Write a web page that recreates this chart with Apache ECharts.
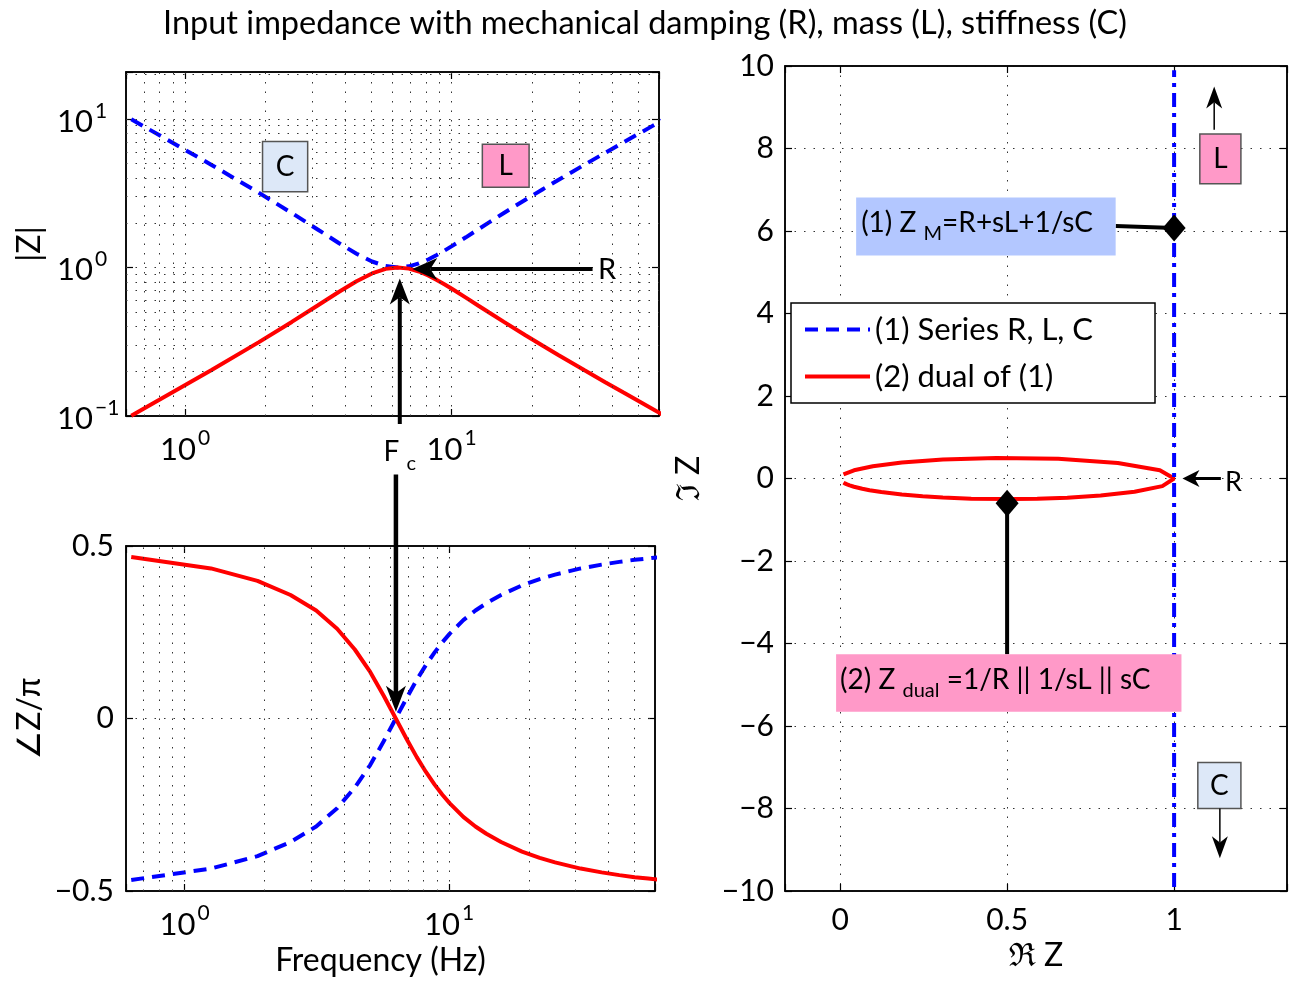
<!DOCTYPE html>
<html>
<head>
<meta charset="utf-8">
<title>Input impedance</title>
<script src="https://cdn.jsdelivr.net/npm/echarts@6.0.0/dist/echarts.min.js"></script>
<style>
html,body{margin:0;padding:0;background:#fff;}
#chart{width:1290px;height:984px;}
</style>
</head>
<body>
<div id="chart"></div>
<script>
// ---------------- data ----------------
const freq = [0.628, 1.257, 1.885, 2.513, 3.142, 3.770, 4.398, 5.027, 5.655, 6.283, 6.912, 7.540, 8.168, 8.796, 9.425, 10.053, 11.310, 12.566, 13.823, 15.708, 18.850, 21.991, 25.133, 31.416, 37.699, 43.982, 50.265, 56.549, 62.832];
const magSeries = [9.950, 4.903, 3.194, 2.326, 1.803, 1.462, 1.237, 1.097, 1.022, 1.000, 1.018, 1.065, 1.132, 1.213, 1.302, 1.397, 1.596, 1.803, 2.012, 2.326, 2.848, 3.366, 3.881, 4.903, 5.918, 6.930, 7.938, 8.945, 9.950];
const magDual = [0.1005, 0.2040, 0.3131, 0.4299, 0.5547, 0.6839, 0.8082, 0.9119, 0.9784, 1.0000, 0.9823, 0.9389, 0.8833, 0.8247, 0.7682, 0.7160, 0.6264, 0.5547, 0.4971, 0.4299, 0.3511, 0.2971, 0.2577, 0.2040, 0.1690, 0.1443, 0.1260, 0.1118, 0.1005];
const phaseSeries = [-0.468, -0.435, -0.399, -0.358, -0.313, -0.260, -0.200, -0.135, -0.066, 0.000, 0.060, 0.112, 0.155, 0.191, 0.221, 0.246, 0.285, 0.313, 0.334, 0.358, 0.386, 0.404, 0.417, 0.435, 0.446, 0.454, 0.460, 0.464, 0.468];
const phaseDual = [0.468, 0.435, 0.399, 0.358, 0.313, 0.260, 0.200, 0.135, 0.066, 0.000, -0.060, -0.112, -0.155, -0.191, -0.221, -0.246, -0.285, -0.313, -0.334, -0.358, -0.386, -0.404, -0.417, -0.435, -0.446, -0.454, -0.460, -0.464, -0.468];
const reSeries = [1, 1, 1, 1, 1, 1, 1, 1, 1, 1, 1, 1, 1, 1, 1, 1, 1, 1, 1, 1, 1, 1, 1, 1, 1, 1, 1, 1, 1];
const imSeries = [-9.900, -4.800, -3.033, -2.100, -1.500, -1.067, -0.729, -0.450, -0.211, 0.000, 0.191, 0.367, 0.531, 0.686, 0.833, 0.975, 1.244, 1.500, 1.745, 2.100, 2.667, 3.214, 3.750, 4.800, 5.833, 6.857, 7.875, 8.889, 9.900];
const reDual = [0.0101, 0.0416, 0.0980, 0.1848, 0.3077, 0.4678, 0.6532, 0.8316, 0.9573, 1.0000, 0.9648, 0.8815, 0.7802, 0.6802, 0.5902, 0.5127, 0.3924, 0.3077, 0.2471, 0.1848, 0.1233, 0.0882, 0.0664, 0.0416, 0.0285, 0.0208, 0.0159, 0.0125, 0.0101];
const imDual = [0.1000, 0.1997, 0.2974, 0.3882, 0.4615, 0.4990, 0.4759, 0.3742, 0.2021, 0.0000, -0.1842, -0.3232, -0.4141, -0.4664, -0.4918, -0.4998, -0.4883, -0.4615, -0.4313, -0.3882, -0.3288, -0.2837, -0.2490, -0.1997, -0.1665, -0.1428, -0.1250, -0.1111, -0.1000];

// grid (tick) positions
const gridFreq = [0.7, 0.8, 0.9, 1, 2, 3, 4, 5, 6, 7, 8, 9, 10, 20, 30, 40, 50];
const gridMag = [0.2, 0.3, 0.4, 0.5, 0.6, 0.7, 0.8, 0.9, 1, 2, 3, 4, 5, 6, 7, 8, 9, 10, 20];
const gridPhase = [0];
const reTicks = [0, 0.5, 1];

// names / texts
const titleText = 'Input impedance with mechanical damping (R), mass (L), stiffness (C)';
const nameSeries = '(1) Series R, L, C';
const nameDual = '(2) dual of (1)';

// annotation anchors (data coordinates of each panel)
const magBoxC = [[1.952, 7.04], [2.883, 3.237]];
const magBoxL = [[13.04, 6.76], [19.53, 3.466]];
const magArrowR = [[33.8, 0.975], [7.12, 0.975]];
const magLabelR = [38.3, 0.96];
const magArrowFc = [[6.39, 0.0883], [6.39, 0.843]];
const magLabelFc = [6.39, 0.054];
const phaseArrowFc = [[6.29, 0.707], [6.29, 0.0194]];
const nyqBoxZM = [[0.048, 6.812], [0.825, 5.405]];
const nyqLinkZM = [[0.825, 6.12], [1, 6.07]];
const nyqBoxDual = [[-0.012, -4.258], [1.022, -5.657]];
const nyqLinkDual = [[0.5, -4.258], [0.5, -0.6]];
const nyqMarkers = [[1, 6.07], [0.5, -0.6]];
const nyqBoxL = [[1.077, 8.35], [1.2, 7.144]];
const nyqArrowL = [[1.12, 8.455], [1.12, 9.505]];
const nyqBoxC = [[1.071, -6.885], [1.2, -8.0]];
const nyqArrowC = [[1.137, -8.0], [1.137, -9.207]];
const nyqArrowR = [[1.14, 0], [1.025, 0]];
const nyqLabelR = [1.178, -0.1];

// ---------------- styling ----------------
const FONT = 'Lato, "Noto Sans", "DejaVu Sans", sans-serif';
const BLUE = '#0000ff', RED = '#ff0000';
const DOT = {color: '#333', width: 1, type: [1.5, 8]};
const PINK = '#ff99c8', LBLUE = '#b3c7ff', PALEBLUE = '#dde8f8';

function merge(a, b) {
  const o = Object.assign({}, a);
  for (const k in b) {
    if (b[k] && typeof b[k] === 'object' && !Array.isArray(b[k]) && a[k] && typeof a[k] === 'object') o[k] = merge(a[k], b[k]);
    else o[k] = b[k];
  }
  return o;
}
const baseAxis = {
  axisLine: {show: true, onZero: false, lineStyle: {color: '#000', width: 1.5}},
  axisTick: {show: true, inside: true, length: 7, lineStyle: {color: '#000', width: 1.2}},
  splitLine: {show: false},
  axisLabel: {show: true, color: '#000', fontFamily: FONT, fontSize: 30},
  nameTextStyle: {color: '#000', fontFamily: FONT, fontSize: 32}
};
function ax(extra) { return merge(baseAxis, extra); }
const hidden = {axisLabel: {show: false}};

function isPow10(v) { const l = Math.log10(v); return Math.abs(l - Math.round(l)) < 1e-6; }
function logLabel(v) {
  if (!isPow10(v)) return '';
  const e = Math.round(Math.log10(v));
  return '{n|10}{s|' + (e < 0 ? '\u2212' + (-e) : e) + '}';
}
const logRich = {
  n: {fontSize: 31, fontFamily: FONT, color: '#000', verticalAlign: 'bottom'},
  s: {fontSize: 21, fontFamily: FONT, color: '#000', verticalAlign: 'bottom', padding: [0, 0, 16, 2]}
};
function minusLabel(v) { return v < 0 ? '\u2212' + (-v) : String(v); }

const logX = {type: 'log', logBase: 10, min: 0.6, max: 60};
const logY = {type: 'log', logBase: 10, min: 0.1, max: 20.7};

const pairs = (xs, ys) => xs.map((x, i) => [x, ys[i]]);
const gridMarks = (xs, ys) => ({
  silent: true, symbol: 'none', animation: false,
  label: {show: false}, emphasis: {disabled: true},
  lineStyle: DOT,
  data: xs.map(v => ({xAxis: v})).concat(ys.map(v => ({yAxis: v})))
});

const option = {
  animation: false,
  backgroundColor: '#fff',
  textStyle: {fontFamily: FONT},
  title: {text: titleText, left: 'center', top: 2,
    textStyle: {fontSize: 32.5, fontWeight: 'normal', fontFamily: FONT, color: '#000'}},
  legend: {
    data: [nameSeries, nameDual], orient: 'vertical', left: 791, top: 303,
    padding: [11, 62, 11, 12], itemGap: 16, itemWidth: 65, itemHeight: 14,
    borderColor: '#000', borderWidth: 1.5, backgroundColor: '#fff', selectedMode: false,
    lineStyle: {width: 4}, itemStyle: {opacity: 0},
    textStyle: {fontSize: 31, fontFamily: FONT, color: '#000'}
  },
  grid: [
    {left: 126, top: 72, width: 533, height: 344, show: true, borderColor: '#000', borderWidth: 1.5},
    {left: 126, top: 546, width: 529, height: 345, show: true, borderColor: '#000', borderWidth: 1.5},
    {left: 785, top: 66, width: 502, height: 825, show: true, borderColor: '#000', borderWidth: 1.5}
  ],
  xAxis: [
    ax(Object.assign({gridIndex: 0}, logX, {axisLabel: {formatter: logLabel, rich: logRich, margin: 12}})),
    ax(Object.assign({gridIndex: 0, position: 'top'}, logX, hidden)),
    ax(Object.assign({gridIndex: 1}, logX, {axisLabel: {formatter: logLabel, rich: logRich, margin: 12},
      name: 'Frequency (Hz)', nameLocation: 'middle', nameGap: 54, nameTextStyle: {padding: [0, 20, 0, 0]}})),
    ax(Object.assign({gridIndex: 1, position: 'top'}, logX, hidden)),
    ax({gridIndex: 2, type: 'value', min: -0.165, max: 1.338, splitNumber: 3,
      axisLabel: {margin: 14, formatter: v => reTicks.some(t => Math.abs(t - v) < 1e-6) ? String(+v.toFixed(2)) : ''},
      splitLine: {show: true, lineStyle: DOT},
      name: '\u211C Z', nameLocation: 'middle', nameGap: 46}),
    ax({gridIndex: 2, type: 'value', min: -0.165, max: 1.338, splitNumber: 3, position: 'top', axisLabel: {show: false}})
  ],
  yAxis: [
    ax(Object.assign({gridIndex: 0}, logY, {axisLabel: {formatter: logLabel, rich: logRich, align: 'left', margin: 69},
      name: '|Z|', nameLocation: 'middle', nameRotate: 90, nameGap: 80})),
    ax(Object.assign({gridIndex: 0, position: 'right'}, logY, hidden)),
    ax({gridIndex: 1, type: 'value', min: -0.5, max: 0.5, interval: 0.5,
      axisLabel: {formatter: minusLabel, margin: 12},
      name: '\u2220Z/\u03C0', nameLocation: 'middle', nameRotate: 90, nameGap: 80}),
    ax({gridIndex: 1, type: 'value', min: -0.5, max: 0.5, interval: 0.5, position: 'right', axisLabel: {show: false}}),
    ax({gridIndex: 2, type: 'value', min: -10, max: 10, interval: 2,
      axisLabel: {formatter: minusLabel, margin: 11},
      splitLine: {show: true, lineStyle: DOT},
      name: '\u2111 Z', nameLocation: 'middle', nameRotate: 90, nameGap: 80}),
    ax({gridIndex: 2, type: 'value', min: -10, max: 10, interval: 2, position: 'right', axisLabel: {show: false}})
  ],
  series: [
    // 0 grid of panel 1
    {type: 'line', name: 'grid1', xAxisIndex: 0, yAxisIndex: 0, data: [], z: 1, markLine: gridMarks(gridFreq, gridMag)},
    // 1,2 magnitude
    {type: 'line', name: nameSeries, xAxisIndex: 0, yAxisIndex: 0, data: pairs(freq, magSeries), symbol: 'none', z: 3,
      lineStyle: {color: BLUE, width: 4, type: [13, 8]}, itemStyle: {color: BLUE}},
    {type: 'line', name: nameDual, xAxisIndex: 0, yAxisIndex: 0, data: pairs(freq, magDual), symbol: 'none', z: 4,
      lineStyle: {color: RED, width: 4}, itemStyle: {color: RED}},
    // 3 grid of panel 2
    {type: 'line', name: 'grid2', xAxisIndex: 2, yAxisIndex: 2, data: [], z: 1, markLine: gridMarks(gridFreq, gridPhase)},
    // 4,5 phase
    {type: 'line', name: nameSeries, xAxisIndex: 2, yAxisIndex: 2, data: pairs(freq, phaseSeries), symbol: 'none', z: 3,
      lineStyle: {color: BLUE, width: 4, type: [13, 8]}, itemStyle: {color: BLUE}},
    {type: 'line', name: nameDual, xAxisIndex: 2, yAxisIndex: 2, data: pairs(freq, phaseDual), symbol: 'none', z: 4,
      lineStyle: {color: RED, width: 4}, itemStyle: {color: RED}},
    // 6,7 impedance plane
    {type: 'line', name: nameSeries, xAxisIndex: 4, yAxisIndex: 4, data: pairs(reSeries, imSeries), symbol: 'none', z: 4,
      lineStyle: {color: BLUE, width: 4, type: [14, 6, 4, 6]}, itemStyle: {color: BLUE}},
    {type: 'line', name: nameDual, xAxisIndex: 4, yAxisIndex: 4, data: pairs(reDual, imDual), symbol: 'none', z: 3,
      lineStyle: {color: RED, width: 4}, itemStyle: {color: RED}},
    // 8,9 connectors
    {type: 'line', name: 'link1', xAxisIndex: 4, yAxisIndex: 4, data: nyqLinkZM, symbol: 'none', z: 5,
      lineStyle: {color: '#000', width: 4}},
    {type: 'line', name: 'link2', xAxisIndex: 4, yAxisIndex: 4, data: nyqLinkDual, symbol: 'none', z: 5,
      lineStyle: {color: '#000', width: 4}},
    // 10 diamonds
    {type: 'scatter', name: 'markers', xAxisIndex: 4, yAxisIndex: 4, data: nyqMarkers, symbol: 'diamond',
      symbolSize: [23, 27], itemStyle: {color: '#000', opacity: 1}, z: 6}
  ]
};

const chart = echarts.init(document.getElementById('chart'));
chart.setOption(option);

// ---------------- annotations positioned through the panels' scales ----------------
function P(si, pt) { return chart.convertToPixel({seriesIndex: si}, pt); }
const RICH = {
  m: {fontSize: 28, fontFamily: FONT, verticalAlign: 'top'},
  sub: {fontSize: 20, fontFamily: FONT, verticalAlign: 'top', padding: [15, 0, 0, 0]}
};
const els = [];
function boxPx(si, c) {
  const a = P(si, c[0]), b = P(si, c[1]);
  return {x: Math.min(a[0], b[0]), y: Math.min(a[1], b[1]), w: Math.abs(b[0] - a[0]), h: Math.abs(b[1] - a[1])};
}
function addBox(si, c, fill, stroke) {
  const r = boxPx(si, c);
  els.push({type: 'rect', shape: {x: r.x, y: r.y, width: r.w, height: r.h},
    style: {fill: fill, stroke: stroke || null, lineWidth: stroke ? 1.5 : 0}, z: 30});
  return r;
}
function addTextPx(x, y, text, opts) {
  els.push({type: 'text', x: x, y: y, z: 31,
    style: Object.assign({text: text, fill: '#000', fontFamily: FONT, fontSize: 28,
      align: 'center', verticalAlign: 'middle', rich: RICH}, opts || {})});
}
function addText(si, pt, text, opts) { const p = P(si, pt); addTextPx(p[0], p[1], text, opts); }
function addArrow(si, seg, lw, hl, hw) {
  const a = P(si, seg[0]), b = P(si, seg[1]);
  const dx = b[0] - a[0], dy = b[1] - a[1], L = Math.hypot(dx, dy), ux = dx / L, uy = dy / L, px = -uy, py = ux;
  const back = [b[0] - ux * hl, b[1] - uy * hl], notch = [b[0] - ux * hl * 0.72, b[1] - uy * hl * 0.72];
  els.push({type: 'line', shape: {x1: a[0], y1: a[1], x2: notch[0], y2: notch[1]},
    style: {stroke: '#000', lineWidth: lw}, z: 30});
  els.push({type: 'polygon', shape: {points: [b, [back[0] + px * hw / 2, back[1] + py * hw / 2], notch,
    [back[0] - px * hw / 2, back[1] - py * hw / 2]]}, style: {fill: '#000'}, z: 30});
}

// panel 1 (|Z|)
let r = addBox(1, magBoxC, PALEBLUE, '#555');
addTextPx(r.x + r.w / 2, r.y + r.h / 2, 'C', {fontSize: 28});
r = addBox(1, magBoxL, PINK, '#555');
addTextPx(r.x + r.w / 2, r.y + r.h / 2, 'L', {fontSize: 28});
addArrow(1, magArrowR, 4, 25, 22);
addText(1, magLabelR, 'R', {fontSize: 29});
addArrow(1, magArrowFc, 4, 26, 20);
addText(1, magLabelFc, '{m|F }{sub|c}');
// arrow from the Fc label down into the phase panel
addArrow(4, phaseArrowFc, 4.5, 26, 20);

// panel 3 (impedance plane)
r = addBox(6, nyqBoxZM, LBLUE, null);
addTextPx(r.x + 5, r.y + r.h / 2, '{m|(1) Z }{sub|M}{m|=R+sL+1/sC}', {align: 'left'});
r = addBox(6, nyqBoxDual, PINK, null);
addTextPx(r.x + 4, r.y + r.h / 2, '{m|(2) Z }{sub|dual}{m| =1/R || 1/sL || sC}', {align: 'left'});
r = addBox(6, nyqBoxL, PINK, '#555');
addTextPx(r.x + r.w / 2, r.y + r.h / 2, 'L', {fontSize: 28});
addArrow(6, nyqArrowL, 1.5, 22, 16);
r = addBox(6, nyqBoxC, PALEBLUE, '#555');
addTextPx(r.x + r.w / 2, r.y + r.h / 2, 'C', {fontSize: 28});
addArrow(6, nyqArrowC, 1.5, 22, 16);
addArrow(6, nyqArrowR, 3, 17, 17);
addText(6, nyqLabelR, 'R', {fontSize: 27});

chart.setOption({graphic: {elements: els}});
</script>
</body>
</html>
